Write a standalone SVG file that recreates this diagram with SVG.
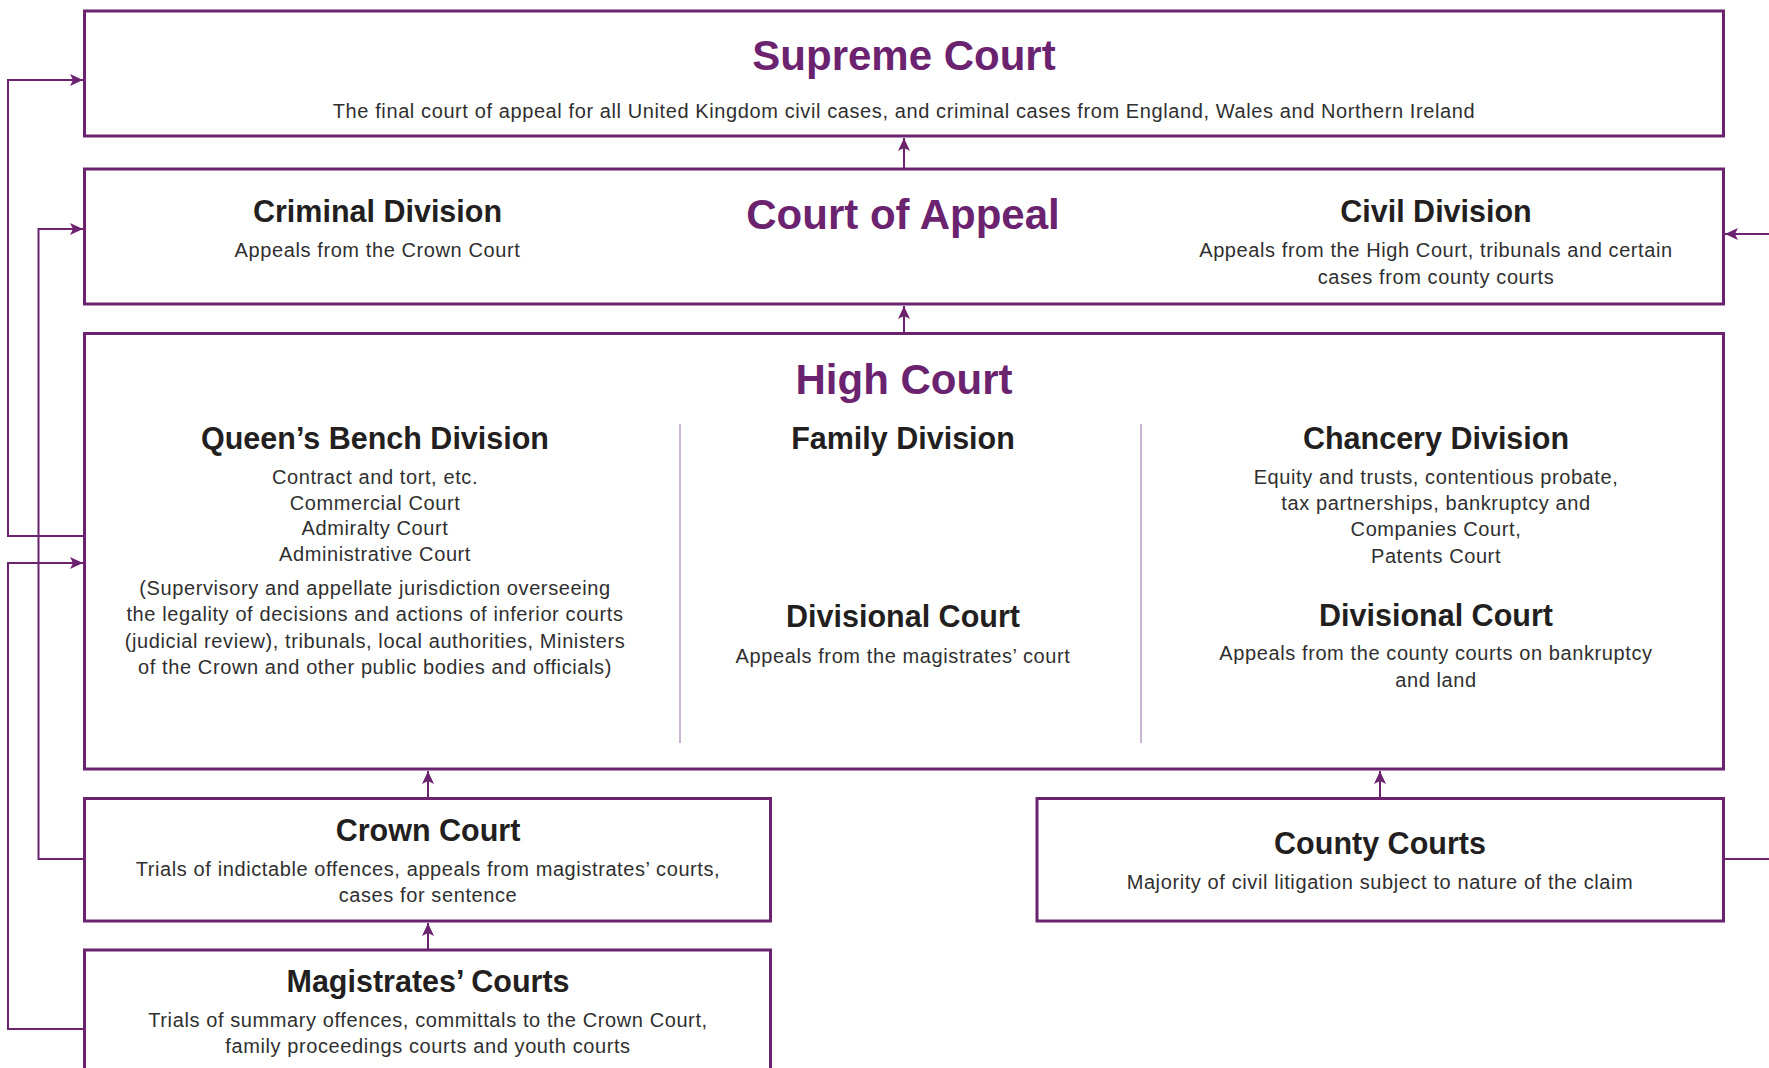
<svg xmlns="http://www.w3.org/2000/svg" width="1769" height="1068" viewBox="0 0 1769 1068">
<style>
.box{fill:#fff;stroke:#6b2370;stroke-width:3}
.con{fill:none;stroke:#6b2370;stroke-width:2}
.div{stroke:#b99ec2;stroke-width:1.5}
.t1{font-family:"Liberation Sans",Arial,sans-serif;font-size:42px;font-weight:bold;fill:#6b2370;text-anchor:middle}
.t2{font-family:"Liberation Sans",Arial,sans-serif;font-size:30.5px;font-weight:bold;fill:#231f20;text-anchor:middle}
.b{font-family:"Liberation Sans",Arial,sans-serif;font-size:20px;letter-spacing:0.6px;fill:#2f2f2f;text-anchor:middle}
</style>
<defs>
<marker id="ah" markerUnits="userSpaceOnUse" markerWidth="14" markerHeight="12" refX="13" refY="6" orient="auto">
<path d="M0,0 L13,6 L0,12 L3,6 z" fill="#6b2370"/>
</marker>
</defs>
<rect width="1769" height="1068" fill="#fff"/>
<g id="connectors">
<line class="con" x1="904" y1="168" x2="904" y2="138" marker-end="url(#ah)"/>
<line class="con" x1="904" y1="333" x2="904" y2="306" marker-end="url(#ah)"/>
<line class="con" x1="428" y1="798" x2="428" y2="771" marker-end="url(#ah)"/>
<line class="con" x1="428" y1="950" x2="428" y2="923" marker-end="url(#ah)"/>
<line class="con" x1="1380" y1="798" x2="1380" y2="771" marker-end="url(#ah)"/>
<path class="con" d="M84,536 H8 V80 H83" marker-end="url(#ah)"/>
<path class="con" d="M84,859 H38.5 V229 H83" marker-end="url(#ah)"/>
<path class="con" d="M84,1029 H8 V563 H83" marker-end="url(#ah)"/>
<path class="con" d="M1724,859 H1790 V234 H1725" marker-end="url(#ah)"/>
</g>
<g id="supreme-court">
<rect class="box" x="84.5" y="11" width="1639" height="125"/>
<text class="t1" x="904" y="70">Supreme Court</text>
<text class="b" x="904" y="118">The final court of appeal for all United Kingdom civil cases, and criminal cases from England, Wales and Northern Ireland</text>
</g>
<g id="court-of-appeal">
<rect class="box" x="84.5" y="169" width="1639" height="135"/>
<text class="t1" x="903" y="229">Court of Appeal</text>
<text class="t2" x="377.5" y="222">Criminal Division</text>
<text class="b" x="377.5" y="257">Appeals from the Crown Court</text>
<text class="t2" x="1436" y="222">Civil Division</text>
<text class="b" x="1436" y="257">Appeals from the High Court, tribunals and certain</text>
<text class="b" x="1436" y="283.5">cases from county courts</text>
</g>
<g id="high-court">
<rect class="box" x="84.5" y="333.5" width="1639" height="435.5"/>
<text class="t1" x="904" y="394">High Court</text>
<line class="div" x1="680" y1="424" x2="680" y2="743"/>
<line class="div" x1="1141" y1="424" x2="1141" y2="743"/>
<text class="t2" x="375" y="449">Queen’s Bench Division</text>
<text class="b" x="375" y="484">Contract and tort, etc.</text>
<text class="b" x="375" y="509.5">Commercial Court</text>
<text class="b" x="375" y="535">Admiralty Court</text>
<text class="b" x="375" y="560.5">Administrative Court</text>
<text class="b" x="375" y="595">(Supervisory and appellate jurisdiction overseeing</text>
<text class="b" x="375" y="621">the legality of decisions and actions of inferior courts</text>
<text class="b" x="375" y="648">(judicial review), tribunals, local authorities, Ministers</text>
<text class="b" x="375" y="674">of the Crown and other public bodies and officials)</text>
<text class="t2" x="903" y="449">Family Division</text>
<text class="t2" x="903" y="627">Divisional Court</text>
<text class="b" x="903" y="663">Appeals from the magistrates’ court</text>
<text class="t2" x="1436" y="449">Chancery Division</text>
<text class="b" x="1436" y="483.5">Equity and trusts, contentious probate,</text>
<text class="b" x="1436" y="509.5">tax partnerships, bankruptcy and</text>
<text class="b" x="1436" y="536">Companies Court,</text>
<text class="b" x="1436" y="562.5">Patents Court</text>
<text class="t2" x="1436" y="626">Divisional Court</text>
<text class="b" x="1436" y="660">Appeals from the county courts on bankruptcy</text>
<text class="b" x="1436" y="687">and land</text>
</g>
<g id="crown-court">
<rect class="box" x="84.5" y="798.5" width="686" height="122.5"/>
<text class="t2" x="428" y="841">Crown Court</text>
<text class="b" x="428" y="876">Trials of indictable offences, appeals from magistrates’ courts,</text>
<text class="b" x="428" y="902">cases for sentence</text>
</g>
<g id="county-courts">
<rect class="box" x="1037" y="798.5" width="686.5" height="122.5"/>
<text class="t2" x="1380" y="854">County Courts</text>
<text class="b" x="1380" y="889">Majority of civil litigation subject to nature of the claim</text>
</g>
<g id="magistrates-courts">
<rect class="box" x="84.5" y="950" width="686" height="140"/>
<text class="t2" x="428" y="992">Magistrates’ Courts</text>
<text class="b" x="428" y="1027">Trials of summary offences, committals to the Crown Court,</text>
<text class="b" x="428" y="1053">family proceedings courts and youth courts</text>
</g>
</svg>
